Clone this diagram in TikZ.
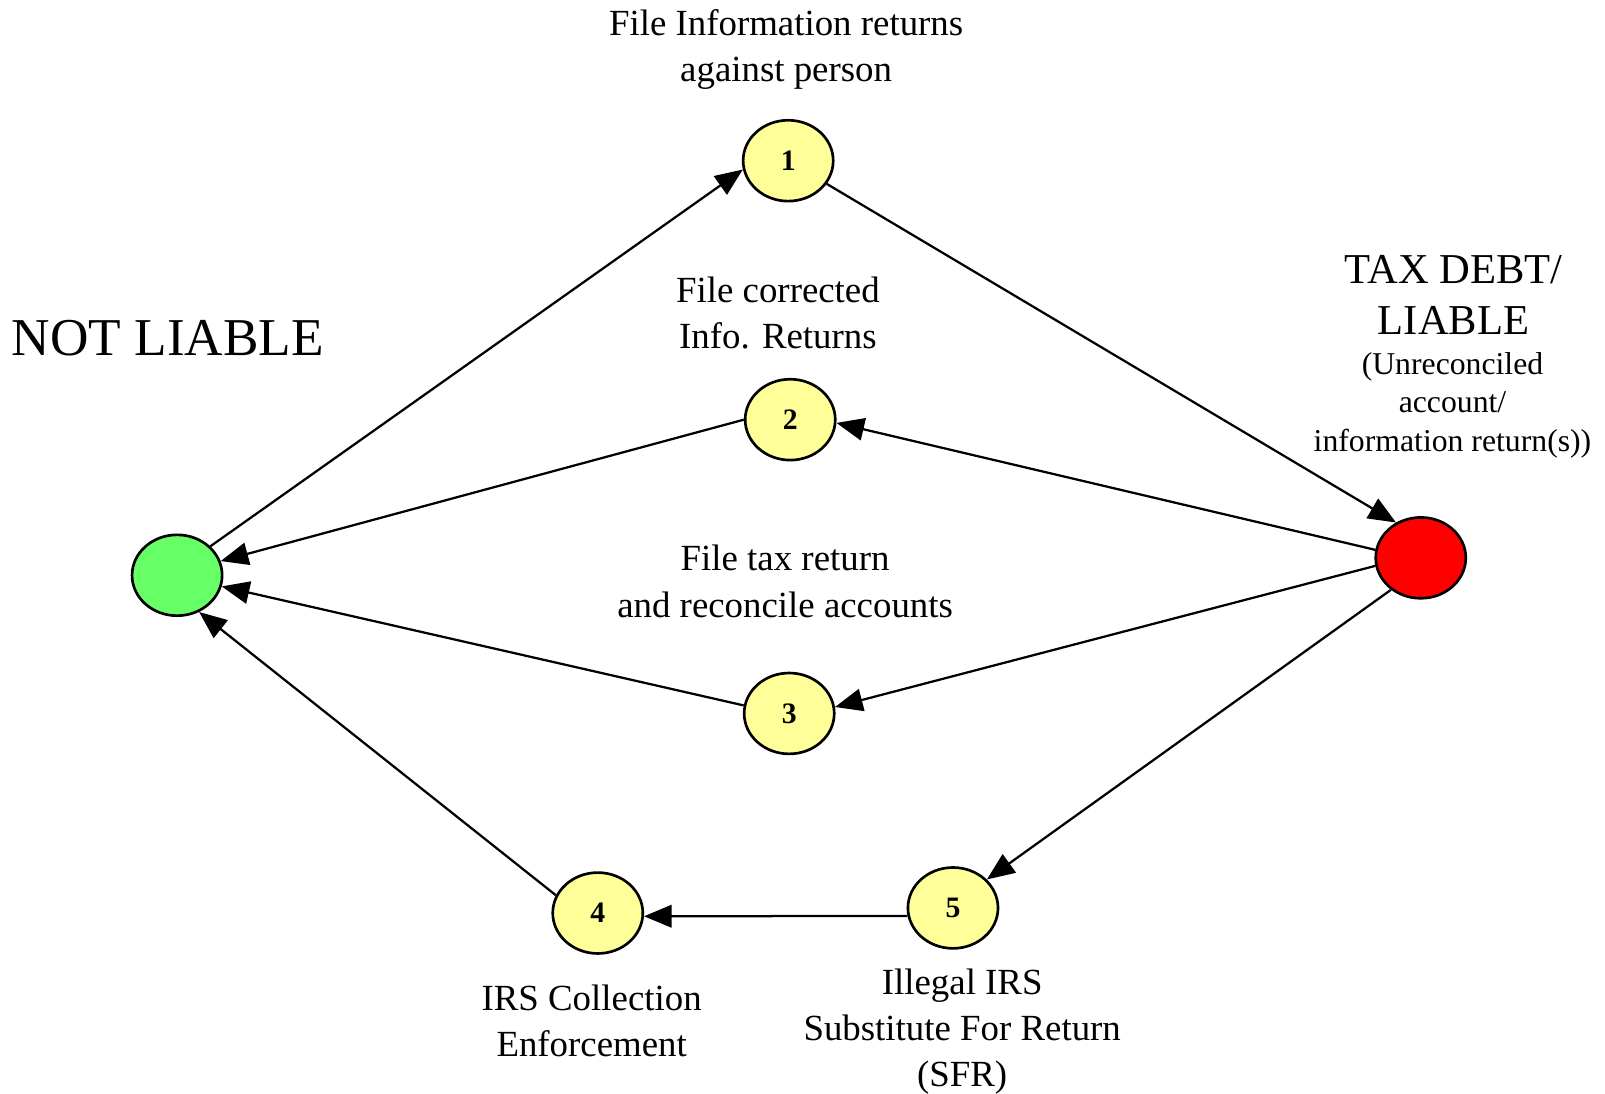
\documentclass[tikz,border=0pt]{standalone}
\usepackage{fontspec}
\setmainfont{Liberation Serif}
\usetikzlibrary{arrows.meta,shapes.geometric}
\definecolor{nodeyellow}{HTML}{FFFF99}
\definecolor{nodegreen}{HTML}{66FF66}
\definecolor{nodered}{HTML}{FF0000}
\begin{document}
\begin{tikzpicture}[x=0.5pt,y=-0.5pt,
  state/.style={ellipse,draw=black,line width=1.3pt,minimum width=44pt,minimum height=39.5pt,inner sep=0pt,font=\fontsize{14.5}{16}\selectfont\bfseries},
  edge/.style={line width=1.1pt,-{Triangle[length=13.5pt,width=11pt]}},
  lbl/.style={align=center,inner sep=0pt,font=\fontsize{18}{22.5}\selectfont},
  small/.style={align=center,inner sep=0pt,font=\fontsize{15.5}{19}\selectfont}]
\useasboundingbox (0,0) rectangle (1568,1068);
% states
\node[state,fill=nodegreen] (g) at (173,562) {};
\node[state,fill=nodered] (r) at (1388,545) {};
\node[state,fill=nodeyellow] (n1) at (770,157) {1};
\node[state,fill=nodeyellow] (n2) at (772,410) {2};
\node[state,fill=nodeyellow] (n3) at (771,697) {3};
\node[state,fill=nodeyellow] (n4) at (584,892) {4};
\node[state,fill=nodeyellow] (n5) at (931,887) {5};
% labels
\node[lbl] (t1) at (768,48) {File Information returns\\against person};
\node[lbl] (t2) at (760,306) {File corrected\\Info. Returns};
\node[lbl] (t3) at (767,568) {File tax return\\and reconcile accounts};
\node[lbl] (t4) at (578,997) {IRS Collection\\Enforcement};
\node[lbl] (t5) at (940,1008) {Illegal IRS\\Substitute For Return\\(SFR)};
\node[inner sep=0pt,font=\fontsize{26}{30}\selectfont] (nl) at (164,330) {NOT LIABLE};
\node[align=center,inner sep=0pt,font=\fontsize{20.8}{25}\selectfont] (td) at (1420,288) {TAX DEBT/\\LIABLE};
\node[small] (uc) at (1419,396) {(Unreconciled\\account/\\information return(s))};
% connectors
\draw[edge] (g.41) -- (n1.191);
\draw[edge] (n1.-31) -- (r.125);
\draw[edge] (r.170) -- (n2.-4);
\draw[edge] (n2.west) -- (g.18);
\draw[edge] (r.190) -- (n3.8);
\draw[edge] (n3.170) -- (g.-14);
\draw[edge] (r.227) -- (n5.40);
\draw[edge] (n5.190) -- (n4.-4);
\draw[edge] (n4.157) -- (g.-59);
\end{tikzpicture}
\end{document}
